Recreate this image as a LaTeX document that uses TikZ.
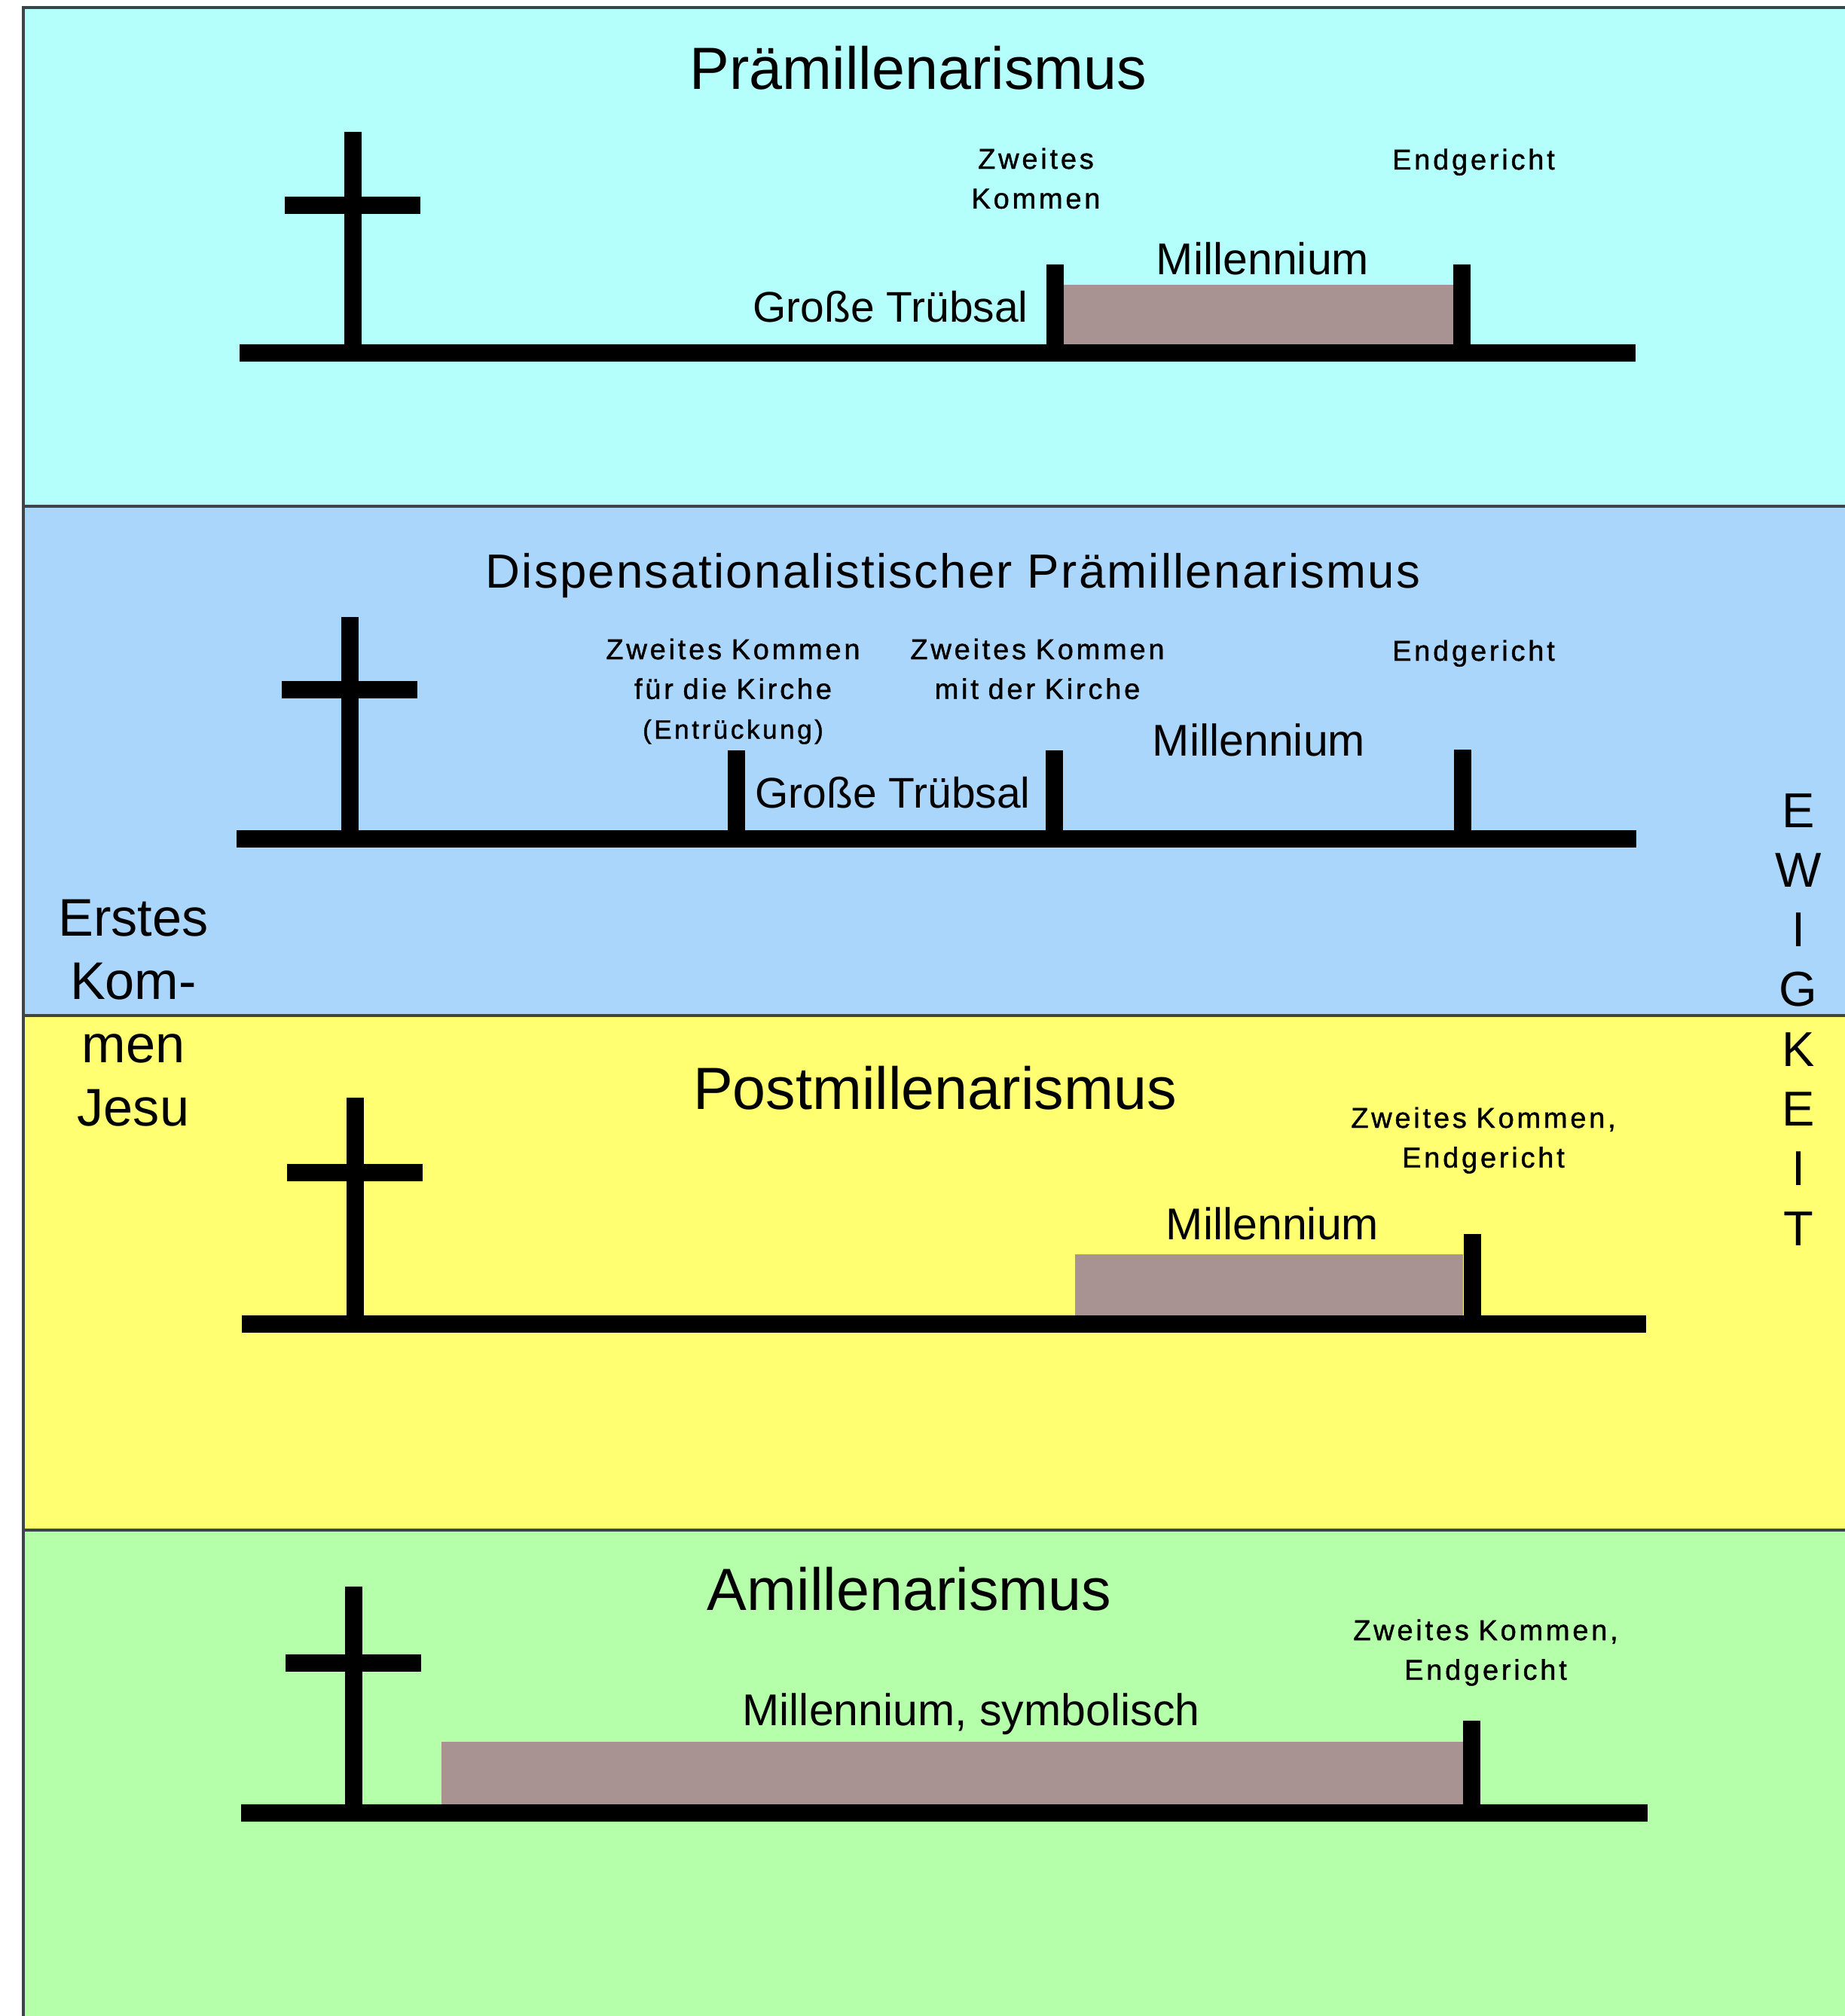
\documentclass[tikz,border=0pt]{standalone}
\usepackage{fontspec}
\setmainfont{Liberation Sans}
\newfontfamily\labelfont[LetterSpace=10,FakeBold=1.2]{Liberation Sans}
\newfontfamily\dispfont[LetterSpace=3.5]{Liberation Sans}
\usepackage{tikz}
\definecolor{pcyan}{RGB}{180,255,251}
\definecolor{pblue}{RGB}{171,214,251}
\definecolor{pyellow}{RGB}{255,255,113}
\definecolor{pgreen}{RGB}{181,255,171}
\definecolor{millgray}{RGB}{168,146,146}
\definecolor{framegray}{RGB}{60,70,72}
\tikzset{
  heading/.style={anchor=base, inner sep=0pt, font=\fontsize{22.5pt}{27pt}\selectfont},
  midlabel/.style={anchor=base, inner sep=0pt, font=\fontsize{16.8pt}{20pt}\selectfont},
  smalllabel/.style={anchor=base, inner sep=0pt, text width=6cm, align=center,
    font=\labelfont\fontsize{10.8pt}{15pt}\selectfont},
  sidelabel/.style={anchor=base, inner sep=0pt, text width=3cm, align=center,
    font=\fontsize{20pt}{23.9pt}\selectfont},
  ewig/.style={anchor=base, inner sep=0pt, font=\fontsize{18.5pt}{22pt}\selectfont},
  bar/.style={line width=2.3mm, black},
  millbox/.style={fill=millgray},
  frame/.style={draw=framegray, line width=0.45mm}
}

\begin{document}
\begin{tikzpicture}
  \useasboundingbox (0,0) rectangle (24.49,-26.76);

  % Panels
  \fill[pcyan] (0.31,-0.10) rectangle (24.49,-6.72);
  \fill[pblue] (0.31,-6.72) rectangle (24.49,-13.48);
  \fill[pyellow] (0.31,-13.48) rectangle (24.49,-20.31);
  \fill[pgreen] (0.31,-20.31) rectangle (24.49,-26.76);
  \draw[frame] (24.49,-0.10) -- (0.31,-0.10) -- (0.31,-26.76);
  \foreach \y in {6.72, 13.48, 20.31} {
    \draw[frame] (0.31,-\y) -- (24.49,-\y);
  }

  % Millennium bars
  \fill[millbox] (14.11,-3.78) rectangle (19.29,-4.68);
  \fill[millbox] (14.27,-16.65) rectangle (19.42,-17.57);
  \fill[millbox] (5.86,-23.12) rectangle (19.42,-24.06);

  % Crosses
  \foreach \cx/\ctop/\carm/\cbase in {4.68/1.75/2.73/4.68, 4.64/8.19/9.15/11.13,
      4.71/14.57/15.56/17.57, 4.69/21.06/22.07/24.06} {
    \draw[bar] (\cx,-\ctop) -- (\cx,-\cbase);
    \draw[bar] (\cx-0.9,-\carm) -- (\cx+0.9,-\carm);
  }

  % Prämillenarismus
  \node[heading] (prehead) at (12.19,-1.19) {Prämillenarismus};
  \draw[bar] (3.18,-4.68) -- (21.71,-4.68);
  \draw[bar] (14.00,-3.51) -- (14.00,-4.68);
  \draw[bar] (19.40,-3.51) -- (19.40,-4.68);
  \node[smalllabel] (prekommen) at (13.75,-2.24) {Zweites\\Kommen};
  \node[smalllabel] (pregericht) at (19.56,-2.25) {Endgericht};
  \node[midlabel, font=\fontsize{16.2pt}{20pt}\selectfont] (pretrub) at (11.82,-4.27) {Große Trübsal};
  \node[midlabel] (premill) at (16.76,-3.64) {Millennium};

  % Dispensationalistischer Prämillenarismus
  \node[heading, font=\dispfont\fontsize{18.1pt}{22pt}\selectfont] (disphead) at (12.65,-7.80)
    {Dispensationalistischer Prämillenarismus};
  \draw[bar] (3.14,-11.13) -- (21.72,-11.13);
  \draw[bar] (9.77,-9.96) -- (9.77,-11.13);
  \draw[bar] (13.99,-9.96) -- (13.99,-11.13);
  \draw[bar] (19.41,-9.95) -- (19.41,-11.13);
  \node[smalllabel] (dispfuer) at (9.73,-8.75)
    {Zweites Kommen\\für die Kirche\\{\fontsize{10pt}{15pt}\selectfont(Entrückung)}};
  \node[smalllabel] (dispmit) at (13.77,-8.75) {Zweites Kommen\\mit der Kirche};
  \node[smalllabel] (dispgericht) at (19.56,-8.77) {Endgericht};
  \node[midlabel, font=\fontsize{16.2pt}{20pt}\selectfont] (disptrub) at (11.85,-10.72) {Große Trübsal};
  \node[midlabel] (dispmill) at (16.71,-10.03) {Millennium};

  % Postmillenarismus
  \node[heading] (posthead) at (12.41,-14.72) {Postmillenarismus};
  \draw[bar] (3.21,-17.57) -- (21.85,-17.57);
  \draw[bar] (19.54,-16.38) -- (19.54,-17.57);
  \node[smalllabel] (postkommen) at (19.69,-14.97) {Zweites Kommen,\\Endgericht};
  \node[midlabel] (postmill) at (16.89,-16.45) {Millennium};

  % Amillenarismus
  \node[heading] (amihead) at (12.07,-21.37) {Amillenarismus};
  \draw[bar] (3.20,-24.06) -- (21.87,-24.06);
  \draw[bar] (19.53,-22.84) -- (19.53,-24.06);
  \node[smalllabel] (amikommen) at (19.72,-21.77) {Zweites Kommen,\\Endgericht};
  \node[midlabel] (amimill) at (12.89,-22.90) {Millennium, symbolisch};

  % Erstes Kommen / Ewigkeit
  \node[sidelabel] (erstes) at (1.77,-12.42) {Erstes\\Kom-\\men\\Jesu};
  \foreach \ltr [count=\i from 0] in {E,W,I,G,K,E,I,T} {
    \node[ewig] (ewig\i) at (23.87,{-10.98-0.793*\i}) {\ltr};
  }
\end{tikzpicture}
\end{document}
